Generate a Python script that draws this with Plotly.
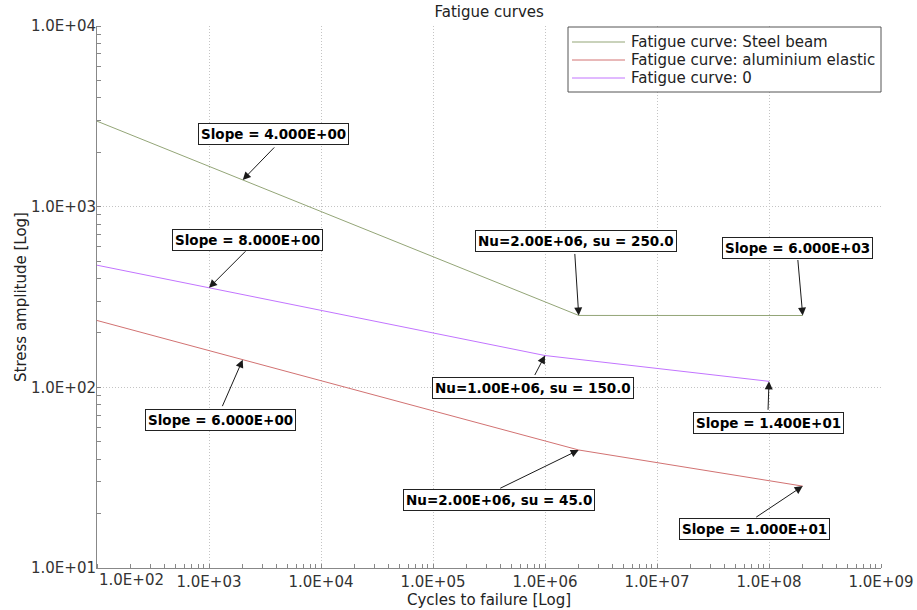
import math
import plotly.graph_objects as go

# S-N curve definitions: knee point (Nu, su) plus slopes before / after the knee
curve_names = ["Fatigue curve: Steel beam", "Fatigue curve: aluminium elastic", "Fatigue curve: 0"]
curve_colors = ["#93a577", "#d27272", "#c274ff"]
knee_cycles = [2.0e6, 2.0e6, 1.0e6]
knee_stress = [250.0, 45.0, 150.0]
slope_low = [4.0, 6.0, 8.0]
slope_high = [6000.0, 10.0, 14.0]
start_cycles = [1.0e2, 1.0e2, 1.0e2]
end_cycles = [2.0e8, 2.0e8, 1.0e8]
slope_label_cycles = [2.0e3, 2.0e3, 1.0e3]

x_tick_vals = [1e2, 1e3, 1e4, 1e5, 1e6, 1e7, 1e8, 1e9]
y_tick_vals = [1e1, 1e2, 1e3, 1e4]

# label box offsets (px) from the arrow head: (box centre dx, dy, arrow tail dx, dy)
offs_slope_low = [(31, -46, 33, -34), (-22, 60, -21, 48), (38, -48, 38, -38)]
offs_knee = [(-3, -74, -4, -63), (-80, 50, -80, 39), (-12, 32, -11, 21)]
offs_slope_high = [(-5, -68, -5, -57), (-48, 43, -48, 32), (-1, 42, -1, 30)]

FONT = "DejaVu Sans"
FS = 15
W, H = 917, 610
ML, MR, MT, MB = 97, 36, 26, 42


def stress_at(i, n):
    m = slope_low[i] if n <= knee_cycles[i] else slope_high[i]
    return knee_stress[i] * (knee_cycles[i] / n) ** (1.0 / m)


fig = go.Figure()
for i, name in enumerate(curve_names):
    xs = [start_cycles[i], knee_cycles[i], end_cycles[i]]
    ys = [stress_at(i, n) for n in xs]
    fig.add_trace(go.Scatter(x=xs, y=ys, mode="lines", name=name, showlegend=False,
                             line=dict(color=curve_colors[i], width=1)))

annotations = []
shapes = []


def labelled_arrow(n, s, text, off):
    bx, by, tx, ty = off
    lx, ly = math.log10(n), math.log10(s)
    # arrow from the box edge to the point
    annotations.append(dict(x=lx, y=ly, xref="x", yref="y", text="", showarrow=True,
                            ax=tx, ay=ty, arrowhead=2, arrowsize=1.6, arrowwidth=1,
                            arrowcolor="#1a1a1a", standoff=0))
    # the boxed label
    annotations.append(dict(x=lx, y=ly, xref="x", yref="y", text="<b>%s</b>" % text,
                            showarrow=True, ax=bx, ay=by, arrowcolor="rgba(0,0,0,0)",
                            arrowwidth=0.1, bgcolor="white", bordercolor="#222222",
                            borderwidth=1, borderpad=2,
                            font=dict(family=FONT, size=13.5, color="black")))


for i in range(len(curve_names)):
    n = slope_label_cycles[i]
    labelled_arrow(n, stress_at(i, n), "Slope = %.3E" % slope_low[i], offs_slope_low[i])
    labelled_arrow(knee_cycles[i], knee_stress[i],
                   "Nu=%.2E, su = %.1f" % (knee_cycles[i], knee_stress[i]), offs_knee[i])
    labelled_arrow(end_cycles[i], stress_at(i, end_cycles[i]),
                   "Slope = %.3E" % slope_high[i], offs_slope_high[i])

# first x tick label sits to the right of the origin
annotations.append(dict(x=math.log10(x_tick_vals[0]), y=0, xref="x", yref="paper",
                        xanchor="left", yanchor="top", yshift=-1, showarrow=False,
                        text="%.1E" % x_tick_vals[0],
                        font=dict(family=FONT, size=FS, color="#333333")))

# legend box in the top-right corner of the plot area
pw, ph = W - ML - MR, H - MT - MB


def px_x(px):
    return (px - ML) / pw


def px_y(py):
    return 1 - (py - MT) / ph


shapes.append(dict(type="rect", xref="paper", yref="paper",
                   x0=px_x(568), x1=px_x(881), y0=px_y(92), y1=px_y(27),
                   line=dict(color="#555555", width=1), fillcolor="white", layer="above"))
for i, name in enumerate(curve_names):
    row_y = 42 + 18 * i
    shapes.append(dict(type="line", xref="paper", yref="paper",
                       x0=px_x(572), x1=px_x(625), y0=px_y(row_y), y1=px_y(row_y),
                       line=dict(color=curve_colors[i], width=1), layer="above"))
    annotations.append(dict(x=px_x(629), y=px_y(row_y), xref="paper", yref="paper",
                            xanchor="left", yanchor="middle", showarrow=False, text=name,
                            font=dict(family=FONT, size=FS, color="#222222")))

axis_common = dict(
    type="log", showline=True, linecolor="#888888", linewidth=1, automargin=False,
    showgrid=True, gridcolor="#c4c4c4", griddash="1px,2px", gridwidth=1,
    zeroline=False, ticks="", tickfont=dict(family=FONT, size=FS, color="#333333"),
    minor=dict(ticks="inside", ticklen=4, tickcolor="#888888", dtick="D1", showgrid=False),
)

fig.update_layout(
    width=W, height=H,
    margin=dict(l=ML, r=MR, t=MT, b=MB),
    paper_bgcolor="white", plot_bgcolor="white",
    font=dict(family=FONT, size=FS, color="#333333"),
    title=dict(text="Fatigue curves", x=0.5335, xanchor="center", y=1 - 12 / H,
               yanchor="middle", yref="container",
               font=dict(family=FONT, size=FS, color="#222222")),
    xaxis=dict(axis_common, range=[2, 9], tickvals=x_tick_vals,
               ticktext=[""] + ["%.1E" % v for v in x_tick_vals[1:]],
               title=dict(text="Cycles to failure [Log]", standoff=4,
                          font=dict(family=FONT, size=FS, color="#222222"))),
    yaxis=dict(axis_common, range=[1, 4], tickvals=y_tick_vals,
               ticktext=["%.1E" % v for v in y_tick_vals], ticklabelstandoff=-3,
               title=dict(text="Stress amplitude [Log]", standoff=0,
                          font=dict(family=FONT, size=FS, color="#222222"))),
    annotations=annotations,
    shapes=shapes,
    showlegend=False,
)

fig.write_html("out.html")
